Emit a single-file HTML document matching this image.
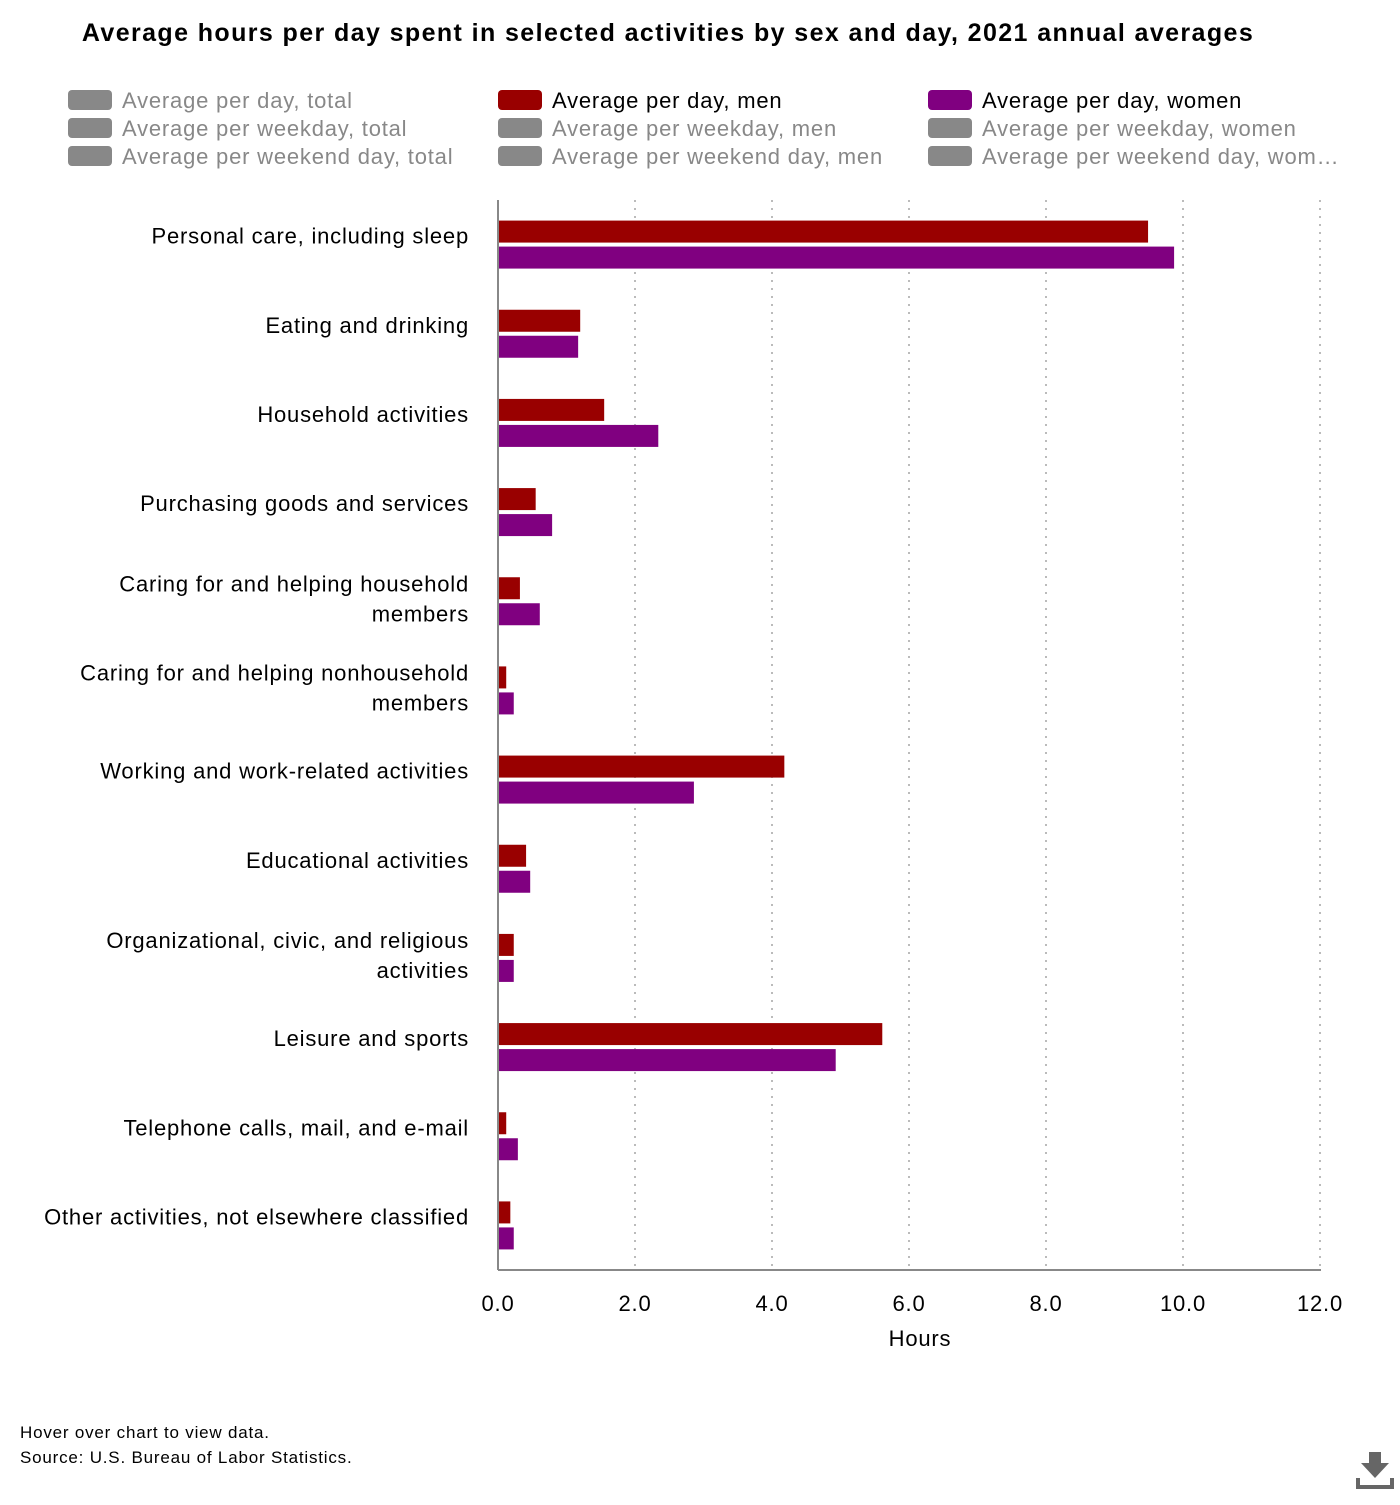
<!DOCTYPE html>
<html><head><meta charset="utf-8"><style>
body{margin:0;width:1400px;height:1500px;background:#fff;font-family:"Liberation Sans",sans-serif;overflow:hidden}
svg text{font-family:"Liberation Sans",sans-serif}
</style></head><body>
<svg id="chart" width="1400" height="1500">
<text x="668" y="41" text-anchor="middle" font-size="25" letter-spacing="1.4" font-weight="bold" fill="#000">Average hours per day spent in selected activities by sex and day, 2021 annual averages</text>
<g id="legend"></g>
<g id="grid"></g>
<g id="bars"></g>
<g id="labels"></g>
<g id="xticks"></g>
<line x1="498" y1="200" x2="498" y2="1270" stroke="#888" stroke-width="2"/>
<line x1="498" y1="1270" x2="1321" y2="1270" stroke="#888" stroke-width="2"/>
<text x="920" y="1346" text-anchor="middle" font-size="22" letter-spacing="0.8" fill="#000">Hours</text>
<text x="20" y="1438" font-size="17" letter-spacing="0.8" fill="#000">Hover over chart to view data.</text>
<text x="20" y="1463" font-size="17" letter-spacing="0.8" fill="#000">Source: U.S. Bureau of Labor Statistics.</text>
<g fill="#666">
<rect x="1369" y="1452" width="12" height="12"/><polygon points="1361,1463 1389,1463 1375,1478"/>
<rect x="1356" y="1478" width="4" height="10"/><rect x="1390" y="1478" width="4" height="10"/><rect x="1356" y="1485" width="38" height="4"/>
</g>
</svg>
<script>
const categories=[["Personal care, including sleep"],["Eating and drinking"],["Household activities"],["Purchasing goods and services"],["Caring for and helping household","members"],["Caring for and helping nonhousehold","members"],["Working and work-related activities"],["Educational activities"],["Organizational, civic, and religious","activities"],["Leisure and sports"],["Telephone calls, mail, and e-mail"],["Other activities, not elsewhere classified"]];
const men=[9.49,1.20,1.55,0.55,0.32,0.12,4.18,0.41,0.23,5.61,0.12,0.18];
const women=[9.87,1.17,2.34,0.79,0.61,0.23,2.86,0.47,0.23,4.93,0.29,0.23];
const ticks=[0,2,4,6,8,10,12];
const tickLabels=["0.0","2.0","4.0","6.0","8.0","10.0","12.0"];
const legendItems=["Average per day, total","Average per weekday, total","Average per weekend day, total","Average per day, men","Average per weekday, men","Average per weekend day, men","Average per day, women","Average per weekday, women","Average per weekend day, wom…"];
const legendColors=["#888","#888","#888","#990000","#888","#888","#800080","#888","#888"];
const NS="http://www.w3.org/2000/svg";
const x=v=>498+v*(1320-498)/12;
const band=(1270-200)/categories.length;
const yc=i=>200+band*(i+0.5);
function mk(t,a,p){const e=document.createElementNS(NS,t);for(const k in a)e.setAttribute(k,a[k]);p.appendChild(e);return e;}
const lg=document.getElementById('legend');
legendItems.forEach((s,i)=>{const c=Math.floor(i/3),r=i%3;const lx=68+c*430,ly=90+r*28;
const g=mk('g',{},lg);


mk('rect',{x:lx,y:ly,width:44,height:20,rx:4,fill:legendColors[i]},g);
const t=mk('text',{x:lx+54,y:ly+18,'font-size':22,'letter-spacing':0.8,fill:legendColors[i]=="#888"?"#888":"#000"},g);t.textContent=s;});
const gr=document.getElementById('grid'),xt=document.getElementById('xticks');
ticks.forEach((v,i)=>{if(v>0){const l=mk('line',{x1:x(v),y1:200,x2:x(v),y2:1270,stroke:'#bbb','stroke-width':2,'stroke-dasharray':'2,6'},gr);

}
const t=mk('text',{x:x(v),y:1311,'text-anchor':'middle','font-size':22,'letter-spacing':0.8,fill:'#000'},xt);t.textContent=tickLabels[i];

});
const bg=document.getElementById('bars'),lb=document.getElementById('labels');
categories.forEach((c,i)=>{const cy=yc(i);
const b1=mk('rect',{x:x(0),y:cy-24,width:x(men[i])-x(0),height:22,fill:'#990000'},bg);


const b2=mk('rect',{x:x(0),y:cy+2,width:x(women[i])-x(0),height:22,fill:'#800080'},bg);


const y0=c.length==1?cy-1:cy-10;
c.forEach((line,j)=>{const t=mk('text',{x:469,y:y0+j*30,'text-anchor':'end','font-size':22,'letter-spacing':0.8,fill:'#000'},lb);t.textContent=line;

});});
</script>
</body></html>
